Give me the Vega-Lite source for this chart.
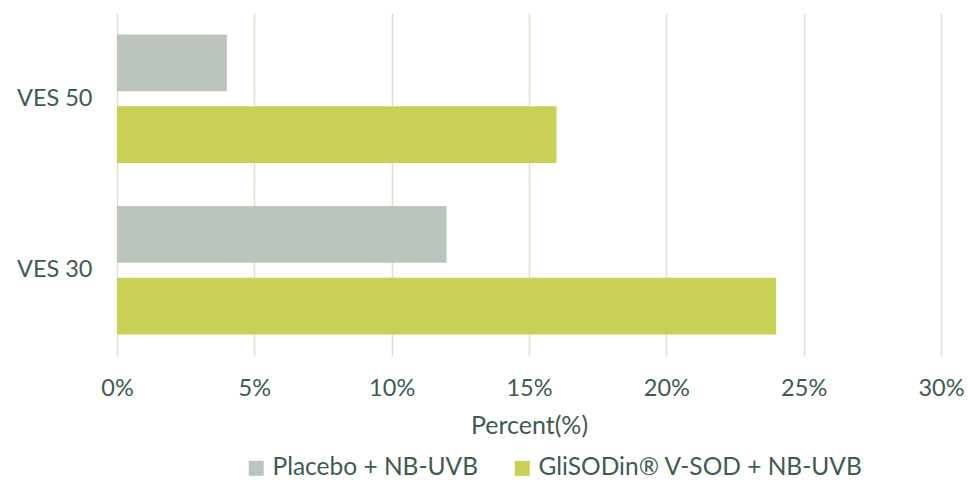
{
  "$schema": "https://vega.github.io/schema/vega-lite/v6.json",
  "width": 824,
  "height": 343,
  "autosize": "none",
  "padding": {"left": 117, "top": 13, "right": 27, "bottom": 127},
  "background": "white",
  "config": {
    "view": {"stroke": null},
    "font": "Lato",
    "axis": {"labelFont": "Lato", "titleFont": "Lato", "labelColor": "#3E5B50", "titleColor": "#3E5B50"},
    "legend": {"labelFont": "Lato", "labelColor": "#3E5B50"}
  },
  "data": {
    "values": [
      {"group": "VES 50", "series": "Placebo + NB-UVB", "value": 0.04},
      {"group": "VES 50", "series": "GliSODin® V-SOD + NB-UVB", "value": 0.16},
      {"group": "VES 30", "series": "Placebo + NB-UVB", "value": 0.12},
      {"group": "VES 30", "series": "GliSODin® V-SOD + NB-UVB", "value": 0.24}
    ]
  },
  "mark": {"type": "bar"},
  "encoding": {
    "y": {
      "field": "group", "type": "nominal", "sort": ["VES 50", "VES 30"],
      "scale": {"paddingInner": 0.25, "paddingOuter": 0.125},
      "axis": {"title": null, "domain": false, "ticks": false, "labelFontSize": 23.5, "labelPadding": 25}
    },
    "yOffset": {
      "field": "series", "type": "nominal", "sort": ["Placebo + NB-UVB", "GliSODin® V-SOD + NB-UVB"],
      "scale": {"paddingInner": 0.21, "paddingOuter": 0}
    },
    "x": {
      "field": "value", "type": "quantitative",
      "scale": {"domain": [0, 0.3], "nice": false},
      "axis": {
        "title": "Percent(%)", "format": ".0%", "values": [0, 0.05, 0.1, 0.15, 0.2, 0.25, 0.3],
        "domain": false, "ticks": false, "grid": true, "gridColor": "#E6DECC", "gridWidth": 1.5,
        "labelFlush": false, "labelFontSize": 23.5, "labelPadding": 20,
        "titleFontSize": 25, "titleFontWeight": "normal", "titlePadding": 14
      }
    },
    "color": {
      "field": "series", "type": "nominal", "sort": ["Placebo + NB-UVB", "GliSODin® V-SOD + NB-UVB"],
      "scale": {"range": ["#BBC5BB", "#C8D156"]},
      "legend": {
        "title": null, "orient": "none", "direction": "horizontal", "legendX": 127, "legendY": 443,
        "symbolType": "square", "symbolSize": 225, "symbolStrokeWidth": 0, "labelFontSize": 24.5,
        "labelLimit": 500, "columnPadding": 32, "labelOffset": 4
      }
    }
  }
}
